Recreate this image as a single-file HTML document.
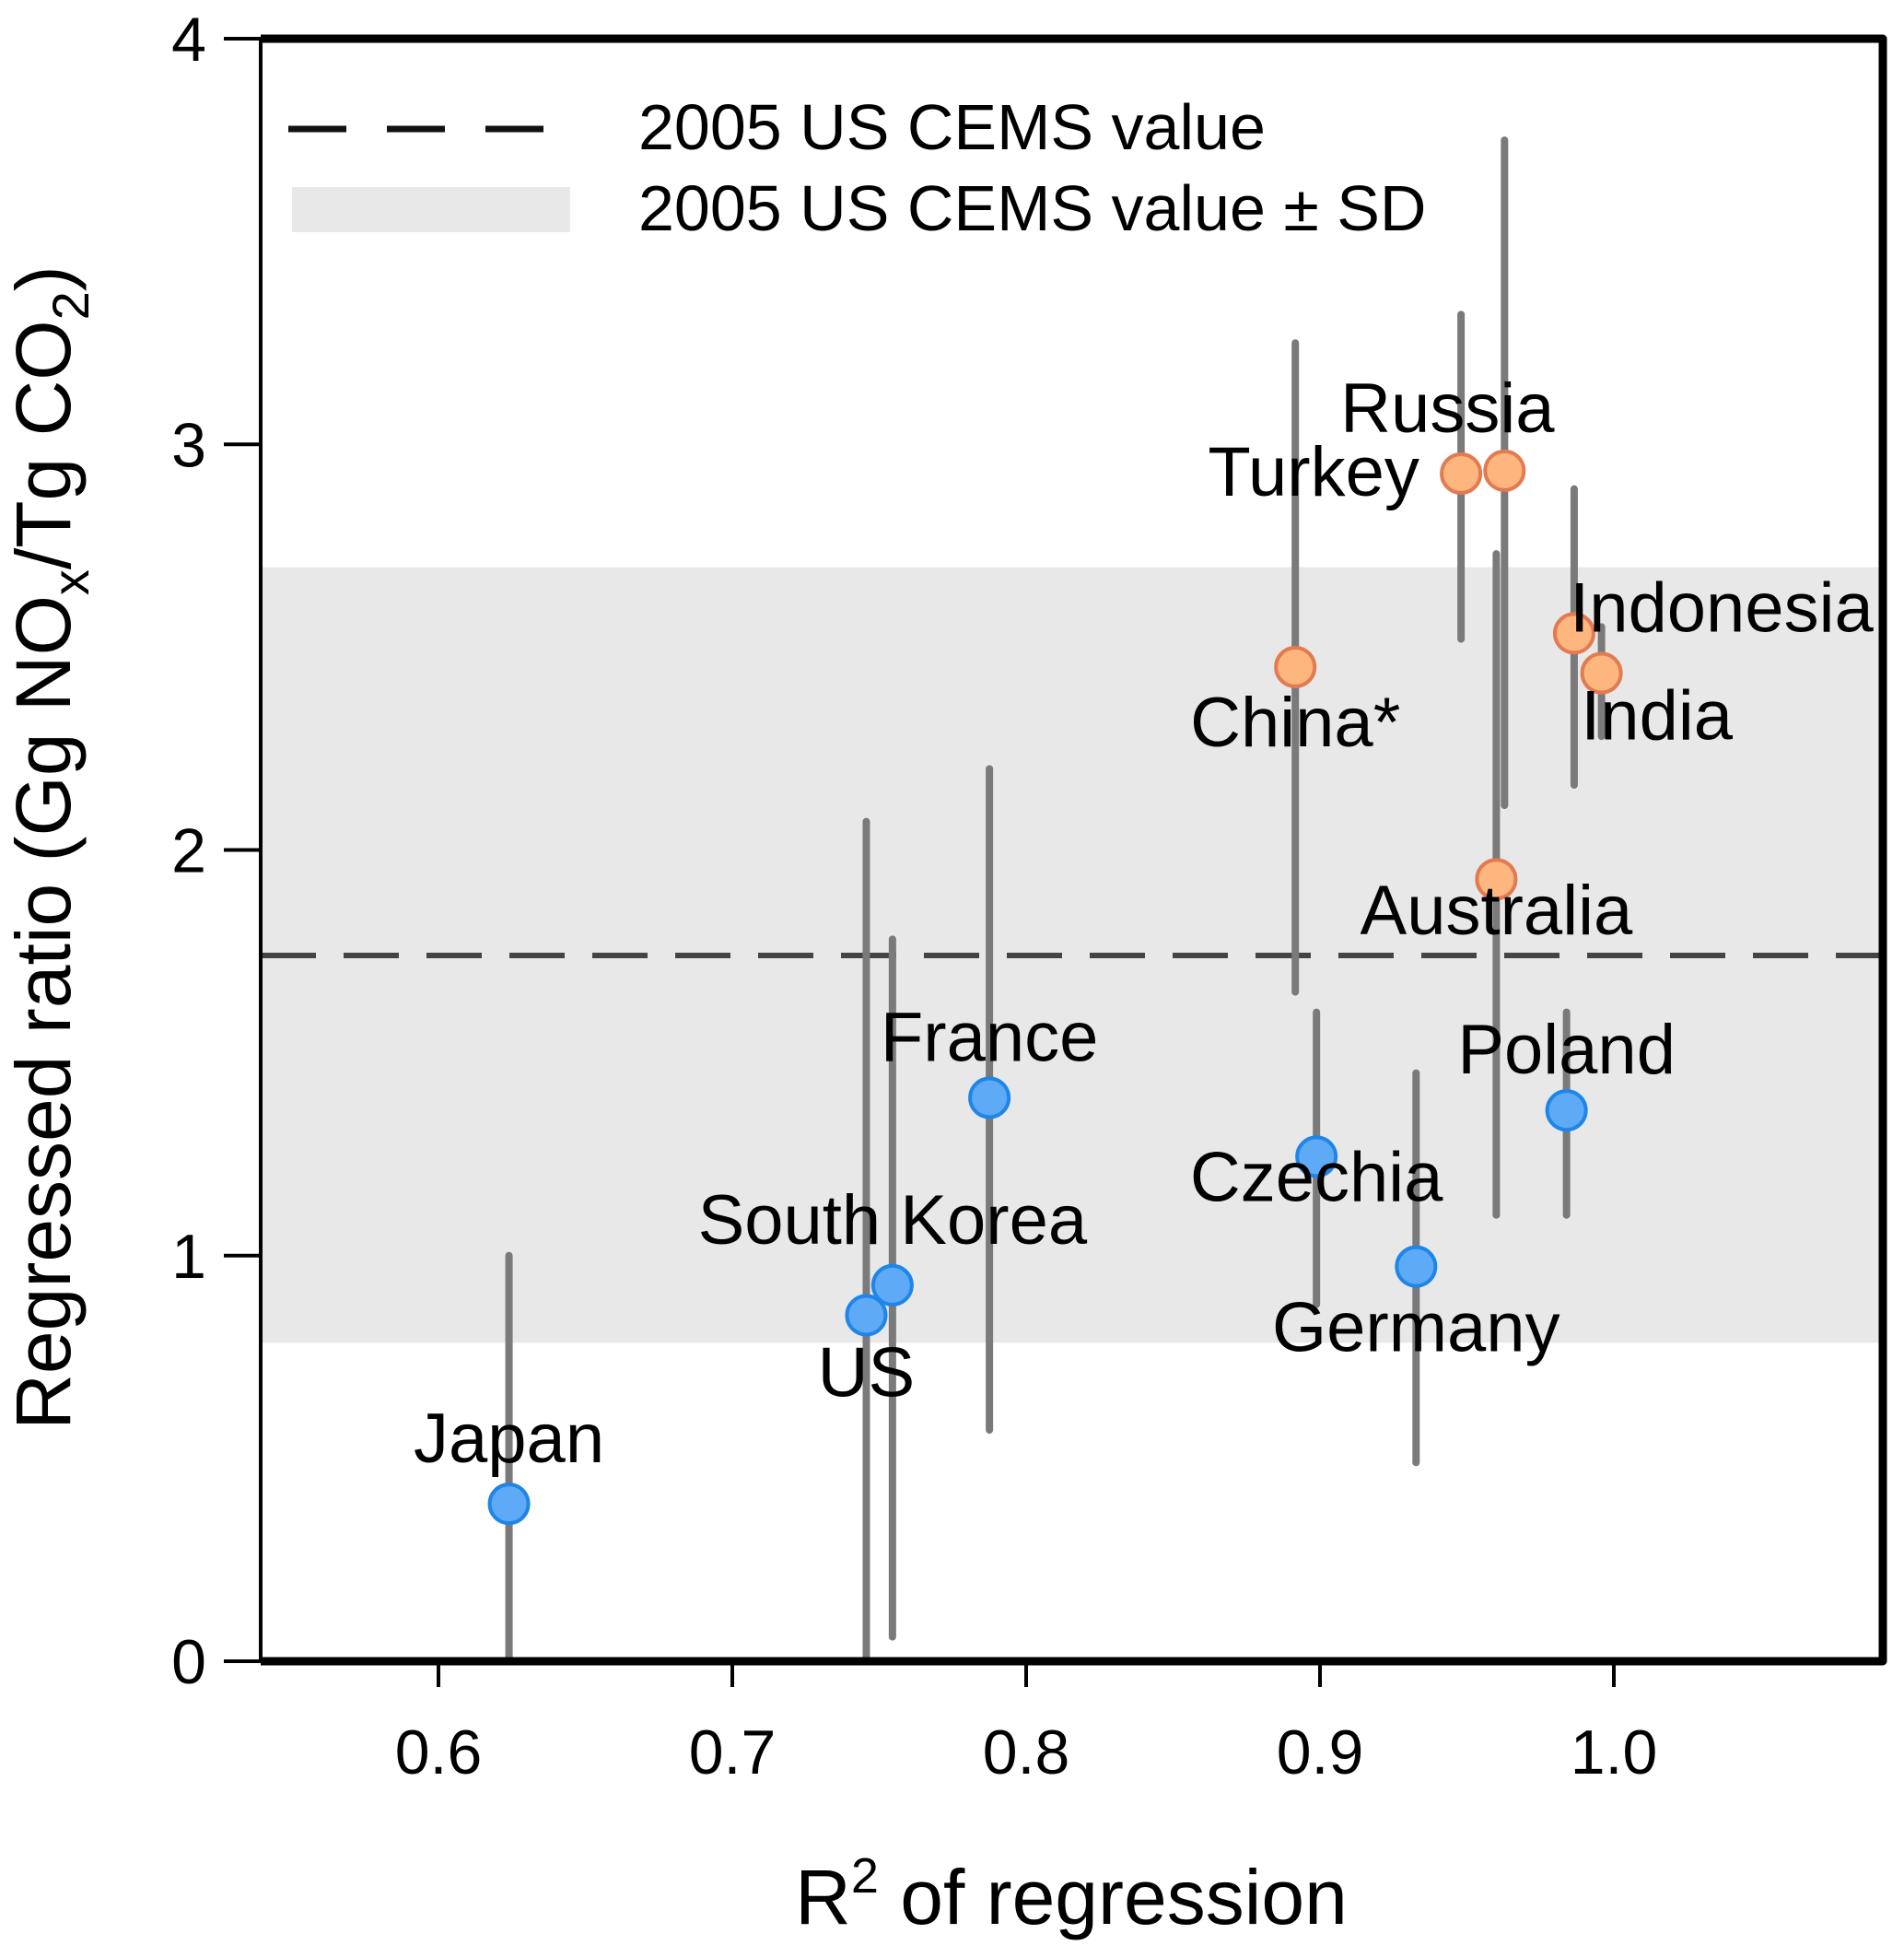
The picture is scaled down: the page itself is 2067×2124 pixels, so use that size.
<!DOCTYPE html>
<html><head><meta charset="utf-8"><style>
html,body{margin:0;padding:0;background:#fff;}
svg{display:block;font-family:"Liberation Sans",Arial,sans-serif;}
</style></head><body>
<svg id="chart" width="2067" height="2124" viewBox="0 0 2067 2124">
<g id="plot"></g>
</svg>
<script>
const countries = ["Japan","US","South Korea","France","China*","Czechia","Germany","Turkey","Russia","Australia","Indonesia","India","Poland"];
const r2Values = [0.624,0.7456,0.7545,0.7875,0.8916,0.8988,0.9327,0.948,0.9628,0.960,0.9865,0.9958,0.9839];
const ratioValues = [0.388,0.853,0.927,1.389,2.451,1.244,0.973,2.928,2.935,1.928,2.534,2.436,1.358];
const errLow = [0.0,0.0,0.06,0.57,1.65,0.88,0.49,2.52,2.11,1.10,2.16,2.28,1.10];
const errHigh = [1.0,2.07,1.78,2.20,3.25,1.60,1.45,3.32,3.75,2.73,2.89,2.55,1.60];
const groups = ["b","b","b","b","o","b","b","o","o","o","o","o","b"];
const xTicks = [0.6,0.7,0.8,0.9,1.0];
const xTickLabels = ["0.6","0.7","0.8","0.9","1.0"];
const yTicks = [0,1,2,3,4];
const yTickLabels = ["0","1","2","3","4"];
const refValue = [1.74];
const refBand = [0.785,2.697];
// label offsets in px relative to point (dx, dy) — layout only
const labelOffsets = [[0,-45],[0,88],[0,-45],[0,-40],[0,86],[0,48],[0,92],[-160,24],[-62,-42],[0,60],[160,-2],[60,72],[0,-40]];

const NS="http://www.w3.org/2000/svg";
const L=283,R=2044,T=42,B=1803;
const X0=0.6,X0px=476,pxPer=3190;
function xs(v){return X0px+(v-X0)*pxPer;}
function ys(v){return B-v*(B-T)/4;}
const svg=document.getElementById('plot');
function mk(tag,attrs,text){const e=document.createElementNS(NS,tag);for(const k in attrs)e.setAttribute(k,attrs[k]);if(text!==undefined)e.textContent=text;svg.appendChild(e);return e;}

let e=mk('rect',{x:L,y:ys(refBand[1]),width:R-L,height:ys(refBand[0])-ys(refBand[1]),fill:'#e8e8e8'});


e=mk('line',{x1:L,x2:R,y1:ys(refValue[0]),y2:ys(refValue[0]),stroke:'#444','stroke-width':6,'stroke-dasharray':'60 30'});



for(let i=0;i<countries.length;i++){
  e=mk('line',{x1:xs(r2Values[i]),x2:xs(r2Values[i]),y1:ys(errLow[i]),y2:ys(errHigh[i]),stroke:'#7a7a7a','stroke-width':8,'stroke-linecap':'round'});
  
  
}
for(let i=0;i<countries.length;i++){
  const o=groups[i]==='o';
  e=mk('circle',{cx:xs(r2Values[i]),cy:ys(ratioValues[i]),r:21,fill:o?'#fdb67e':'#5eaaf6','stroke':o?'#e27a52':'#1e86e8','stroke-width':4});
  
  
}
for(let i=0;i<countries.length;i++){
  e=mk('text',{x:xs(r2Values[i])+labelOffsets[i][0],y:ys(ratioValues[i])+labelOffsets[i][1],'text-anchor':'middle','font-size':76,fill:'#000'},countries[i]);
  
  
}
e=mk('line',{x1:L,x2:L,y1:T,y2:B,stroke:'#000','stroke-width':4});


e=mk('path',{d:`M${L} ${T} L${R} ${T} L${R} ${B} L${L} ${B}`,fill:'none',stroke:'#000','stroke-width':9,'stroke-linejoin':'round'});


for(let i=0;i<xTicks.length;i++){
  e=mk('line',{x1:xs(xTicks[i]),x2:xs(xTicks[i]),y1:B,y2:B+28,stroke:'#000','stroke-width':4});
  
  
  e=mk('text',{x:xs(xTicks[i]),y:1925,'text-anchor':'middle','font-size':68},xTickLabels[i]);
  
  
}
for(let i=0;i<yTicks.length;i++){
  e=mk('line',{x1:L-40,x2:L,y1:ys(yTicks[i]),y2:ys(yTicks[i]),stroke:'#000','stroke-width':4});
  
  
  e=mk('text',{x:224,y:ys(yTicks[i])+24,'text-anchor':'end','font-size':68},yTickLabels[i]);
  
  
}
</script>
<svg width="2067" height="2124" style="position:absolute;left:0;top:0" font-family="Liberation Sans, Arial, sans-serif">
<g>
<line x1="313" x2="590" y1="140" y2="140" stroke="#111" stroke-width="7" stroke-dasharray="63 44"/>
<rect x="317" y="203" width="302" height="49" fill="#e8e8e8"/>
<text x="693" y="162" font-size="70">2005 US CEMS value</text>
<text x="693" y="250" font-size="70">2005 US CEMS value ± SD</text>
</g>
<text x="1163" y="2088" font-size="84" text-anchor="middle">R<tspan dy="-34" font-size="54">2</tspan><tspan dy="34"> of regression</tspan></text>
<text transform="translate(76,920) rotate(-90)" font-size="84" text-anchor="middle">Regressed ratio (Gg NO<tspan dy="20" font-size="56">x</tspan><tspan dy="-20">/Tg CO</tspan><tspan dy="20" font-size="56">2</tspan><tspan dy="-20">)</tspan></text>
</svg>
</body></html>
